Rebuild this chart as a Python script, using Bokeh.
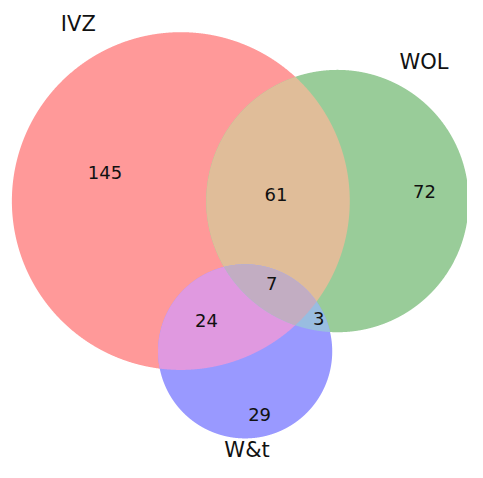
import numpy as np
from bokeh.plotting import figure
from bokeh.models import Range1d
from bokeh.embed import file_html
from bokeh.resources import INLINE
from bokeh.core.properties import value

# ---- data ----
set_names = ["IVZ", "WOL", "W&t"]
# region membership keys (IVZ, WOL, W&t)
region_keys = ["100", "010", "001", "110", "101", "011", "111"]
region_counts = [145, 72, 29, 61, 24, 3, 7]
region_colors = ["#ff9999", "#99cc99", "#9999ff", "#e0bd99", "#e099e0", "#99bde0", "#c2adc2"]

# ---- layout (reference pixel coordinates, y downwards) ----
circle_cx = [186.5, 348.5, 253.0]
circle_cy = [207.5, 207.5, 363.0]
RADIUS_SCALE = 11.35
count_x = [108, 438.5, 268, 285, 213, 329, 280.5]
count_y = [178, 198, 428, 201, 331, 329, 293]
label_x = [80.5, 438, 255]
label_y = [24, 64, 465]

set_totals = [sum(c for k, c in zip(region_keys, region_counts) if k[i] == "1") for i in range(3)]
radii = [RADIUS_SCALE * np.sqrt(t) for t in set_totals]

def region_polygon(members):
    th = np.linspace(0, 2 * np.pi, 2880, endpoint=False)
    px, py = [], []
    for i in members:
        x = circle_cx[i] + radii[i] * np.cos(th)
        y = circle_cy[i] + radii[i] * np.sin(th)
        keep = np.ones_like(x, dtype=bool)
        for j in members:
            if j != i:
                keep &= (x - circle_cx[j]) ** 2 + (y - circle_cy[j]) ** 2 <= radii[j] ** 2 + 1e-6
        px.append(x[keep]); py.append(y[keep])
    px = np.concatenate(px); py = np.concatenate(py)
    mx, my = px.mean(), py.mean()
    order = np.argsort(np.arctan2(py - my, px - mx))
    return list(px[order]), list(py[order])

xs, ys, cols = [], [], []
for k, col in sorted(zip(region_keys, region_colors), key=lambda t: t[0].count("1")):
    members = [i for i in range(3) if k[i] == "1"]
    x, y = region_polygon(members)
    xs.append(x); ys.append(y); cols.append(col)

p = figure(width=467, height=462, output_backend="svg", toolbar_location=None,
           x_range=Range1d(0, 483), y_range=Range1d(478, 0), min_border=0)
p.axis.visible = False
p.grid.visible = False
p.outline_line_color = None
p.background_fill_color = "white"

p.patches(xs, ys, fill_color=cols, line_color=None, fill_alpha=1.0)

p.text(x=count_x, y=count_y, text=[str(c) for c in region_counts],
       text_font=value("DejaVu Sans"), text_font_size="18px", text_color="#111111",
       text_align="center", text_baseline="middle")
p.text(x=label_x, y=label_y, text=set_names,
       text_font=value("DejaVu Sans"), text_font_size="21px", text_color="#111111",
       text_align="center", text_baseline="middle")

open("out.html", "w").write(file_html(p, INLINE))
